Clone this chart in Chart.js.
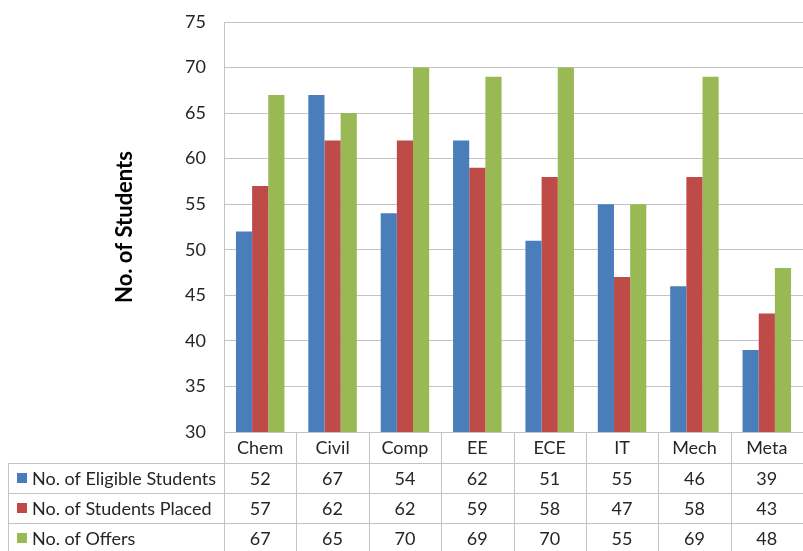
<!DOCTYPE html>
<html>
<head>
<meta charset="utf-8">
<script src="https://cdn.jsdelivr.net/npm/chart.js@4.4.1/dist/chart.umd.min.js"></script>
<style>
  html, body { margin: 0; padding: 0; background: #fff; }
  #wrap { width: 803px; height: 551px; position: relative; }
</style>
</head>
<body>
<div id="wrap"><canvas id="placementChart"></canvas></div>
<script>
var branches = ['Chem', 'Civil', 'Comp', 'EE', 'ECE', 'IT', 'Mech', 'Meta'];
var eligible = [52, 67, 54, 62, 51, 55, 46, 39];
var placed   = [57, 62, 62, 59, 58, 47, 58, 43];
var offers   = [67, 65, 70, 69, 70, 55, 69, 48];
var seriesNames = ['No. of Eligible Students', 'No. of Students Placed', 'No. of Offers'];
var seriesColors = ['#4a7ebb', '#be4b48', '#98b954'];

var FONT = 'Lato, "Noto Sans", sans-serif';
var lineColor = '#c3c3c3';
var rowH = 30;

// draws the data table under the x axis, using the x scale for columns
var dataTablePlugin = {
    id: 'dataTable',
    afterDraw: function (chart) {
        var ctx = chart.ctx;
        var x = chart.scales.x;
        var area = chart.chartArea;
        var n = chart.data.labels.length;
        var catW = (area.right - area.left) / n;
        var headTop = area.bottom;
        var headBottom = headTop + 31;
        var tableLeft = 8;
        var bottom = chart.height;

        ctx.save();
        ctx.strokeStyle = lineColor;
        ctx.lineWidth = 1;

        // vertical column lines
        for (var i = 0; i <= n; i++) {
            var bx = Math.round(area.left + i * catW) + 0.5;
            ctx.beginPath();
            ctx.moveTo(bx, headTop);
            ctx.lineTo(bx, bottom);
            ctx.stroke();
        }
        ctx.beginPath();
        ctx.moveTo(tableLeft + 0.5, headBottom);
        ctx.lineTo(tableLeft + 0.5, bottom);
        ctx.stroke();

        // horizontal row lines
        for (var r = 0; r < 3; r++) {
            var y = Math.round(headBottom + r * rowH) + 0.5;
            ctx.beginPath();
            ctx.moveTo(tableLeft, y);
            ctx.lineTo(area.right, y);
            ctx.stroke();
        }

        ctx.font = '18px ' + FONT;
        ctx.textBaseline = 'middle';
        chart.data.datasets.forEach(function (ds, r) {
            var cy = headBottom + r * rowH + rowH / 2;
            ctx.fillStyle = ds.backgroundColor;
            ctx.fillRect(17, cy - 5, 10, 10);
            ctx.fillStyle = '#262626';
            ctx.textAlign = 'left';
            ctx.fillText(ds.label, 32, cy + 1);
            ctx.textAlign = 'center';
            ds.data.forEach(function (v, i) {
                ctx.fillText(String(v), x.getPixelForTick(i), cy + 1);
            });
        });
        ctx.restore();
    }
};

var ctx = document.getElementById('placementChart').getContext('2d');
var placementChart = new Chart(ctx, {
    type: 'bar',
    data: {
        labels: branches,
        datasets: [
            { label: seriesNames[0], data: eligible, backgroundColor: seriesColors[0] },
            { label: seriesNames[1], data: placed, backgroundColor: seriesColors[1] },
            { label: seriesNames[2], data: offers, backgroundColor: seriesColors[2] }
        ]
    },
    options: {
        responsive: true,
        maintainAspectRatio: false,
        animation: false,
        devicePixelRatio: 1,
        layout: { padding: { top: 22, right: 0, left: 0, bottom: 88 } },
        datasets: {
            bar: { barPercentage: 1, categoryPercentage: 0.67, borderWidth: 0 }
        },
        plugins: {
            legend: { display: false },
            tooltip: { enabled: false }
        },
        scales: {
            x: {
                grid: { display: true, drawOnChartArea: false, drawTicks: false, color: lineColor },
                border: { color: lineColor },
                ticks: { color: '#262626', font: { family: FONT, size: 18 }, padding: 5 },
                afterFit: function (scale) { scale.height = 31; }
            },
            y: {
                min: 30,
                max: 75,
                ticks: { stepSize: 5, color: '#262626', font: { family: FONT, size: 18 }, padding: 18 },
                grid: { color: lineColor, drawTicks: false },
                border: { color: lineColor },
                title: {
                    display: true,
                    text: 'No. of Students',
                    color: '#000',
                    font: { family: FONT, size: 22, weight: 'bold' },
                    padding: { top: 112, bottom: 0 }
                },
                afterFit: function (scale) {
                    scale.width = 224;
                    scale.paddingTop = 0;
                    scale.paddingBottom = 0;
                }
            }
        }
    },
    plugins: [dataTablePlugin]
});
</script>
</body>
</html>
